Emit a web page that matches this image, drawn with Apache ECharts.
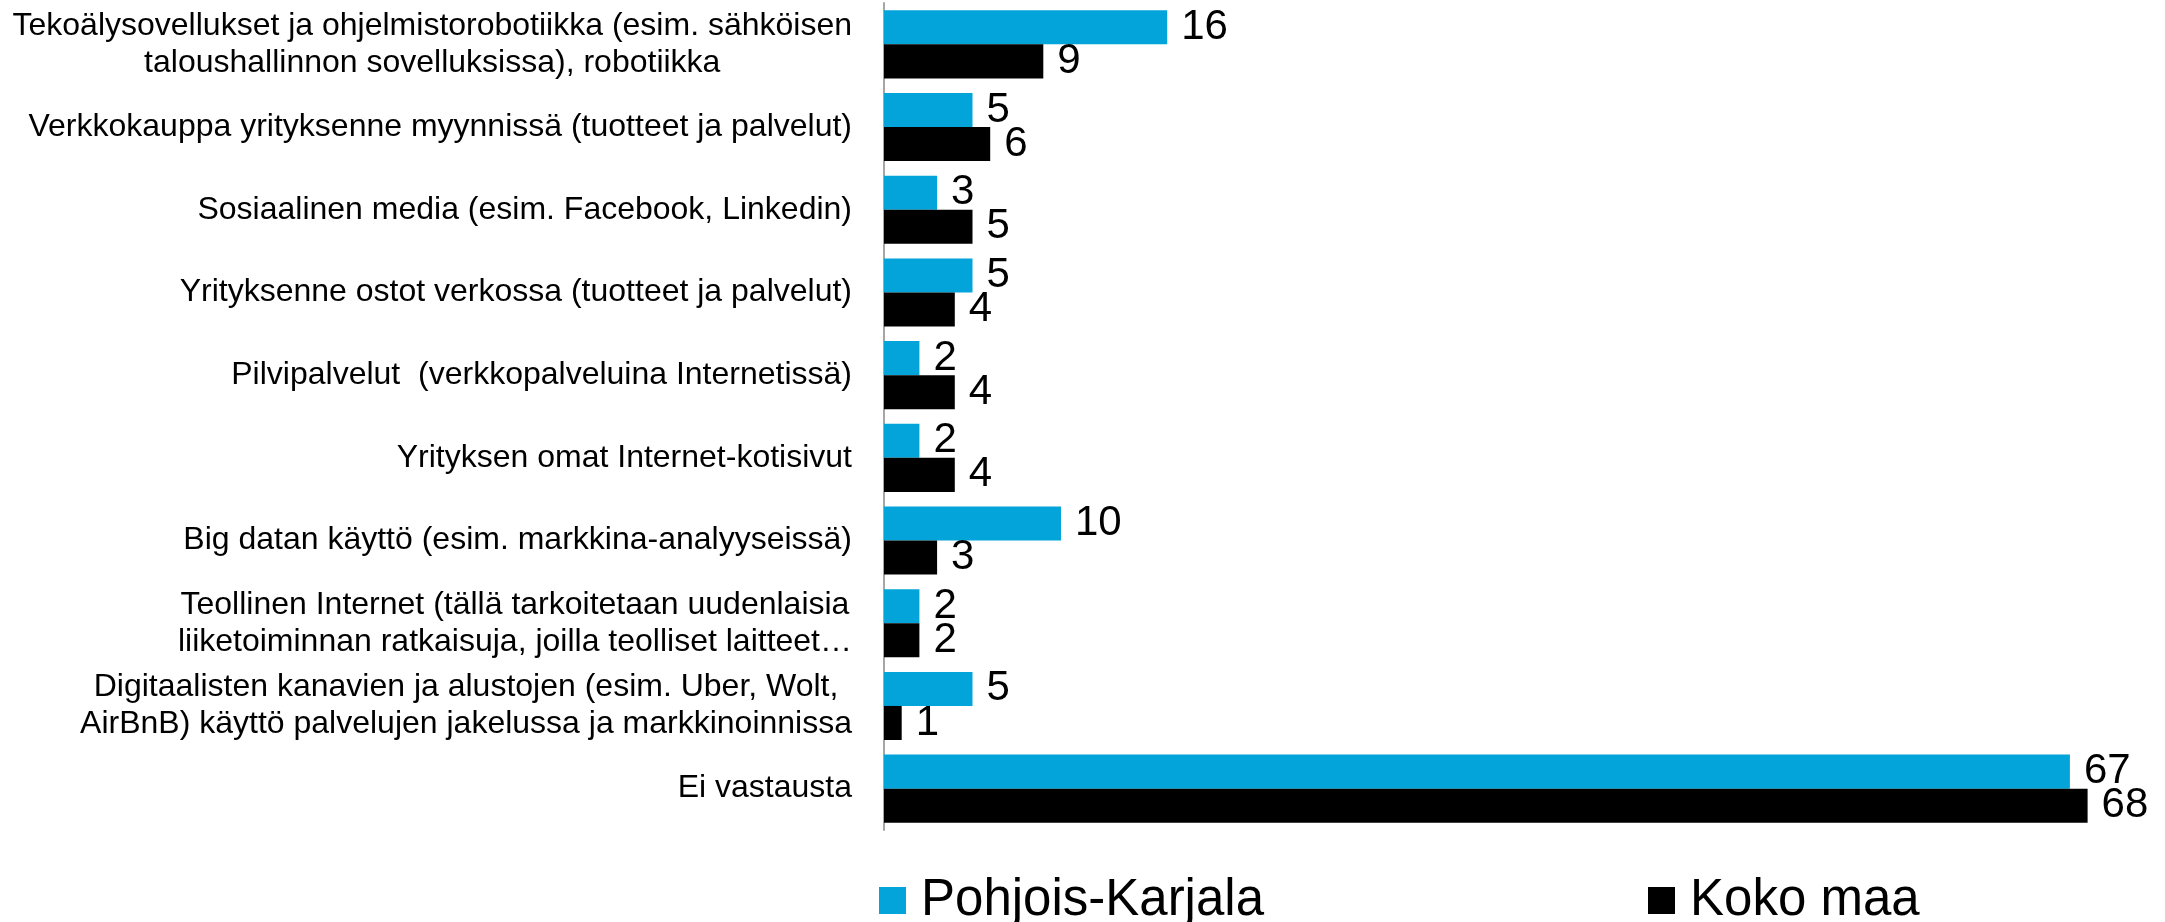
<!DOCTYPE html>
<html>
<head>
<meta charset="utf-8">
<script src="https://cdn.jsdelivr.net/npm/echarts@6/dist/echarts.min.js"></script>
<style>
  html, body { margin: 0; padding: 0; background: #fff; }
  #chart { width: 2165px; height: 922px; }
</style>
</head>
<body>
<div id="chart"></div>
<script>
// kategoriat (ylhäältä alas)
const categories = [
  'Tekoälysovellukset ja ohjelmistorobotiikka (esim. sähköisen\ntaloushallinnon sovelluksissa), robotiikka',
  'Verkkokauppa yrityksenne myynnissä (tuotteet ja palvelut)',
  'Sosiaalinen media (esim. Facebook, Linkedin)',
  'Yrityksenne ostot verkossa (tuotteet ja palvelut)',
  'Pilvipalvelut  (verkkopalveluina Internetissä)',
  'Yrityksen omat Internet-kotisivut',
  'Big datan käyttö (esim. markkina-analyyseissä)',
  'Teollinen Internet (tällä tarkoitetaan uudenlaisia\nliiketoiminnan ratkaisuja, joilla teolliset laitteet…',
  'Digitaalisten kanavien ja alustojen (esim. Uber, Wolt,\nAirBnB) käyttö palvelujen jakelussa ja markkinoinnissa',
  'Ei vastausta'
]
const seriesNames = ['Pohjois-Karjala', 'Koko maa']
const pohjoisKarjala = [16, 5, 3, 5, 2, 2, 10, 2, 5, 67]
const kokoMaa = [9, 6, 5, 4, 4, 4, 3, 2, 1, 68]

const font = '"Liberation Sans", Arial, sans-serif'
const myChart = echarts.init(document.getElementById('chart'))

const barLabel = {
  show: true,
  position: 'right',
  distance: 14,
  color: '#000',
  fontSize: 42,
  fontFamily: font
}

const legendText = { fontSize: 51, lineHeight: 51, fontFamily: font, color: '#000', padding: [0, 0, 8, 10] }

const option = {
  animation: false,
  grid: {
    left: 884,
    right: 42,
    top: 3,
    height: 827
  },
  legend: [
    {
      data: [seriesNames[0]],
      left: 874,
      top: 866,
      icon: 'rect',
      itemWidth: 27,
      itemHeight: 27,
      textStyle: legendText
    },
    {
      data: [seriesNames[1]],
      left: 1643,
      top: 866,
      icon: 'rect',
      itemWidth: 27,
      itemHeight: 27,
      textStyle: legendText
    }
  ],
  xAxis: {
    type: 'value',
    min: 0,
    max: 70,
    show: false
  },
  yAxis: {
    type: 'category',
    inverse: true,
    data: categories,
    axisLine: { show: true, lineStyle: { color: '#a6a6a6', width: 2 } },
    axisTick: { show: false },
    axisLabel: {
      margin: 32,
      // rivit keskitetään toisiinsa nähden
      formatter: (value) => value.split('\n').map(l => '{c|' + l + '}').join('\n'),
      rich: {
        c: { align: 'center', fontSize: 32, lineHeight: 37, fontFamily: font, color: '#000' }
      }
    }
  },
  series: [
    {
      name: seriesNames[0],
      type: 'bar',
      data: pohjoisKarjala,
      itemStyle: { color: '#02a4d9' },
      barGap: '0%',
      barCategoryGap: '17.6%',
      label: barLabel
    },
    {
      name: seriesNames[1],
      type: 'bar',
      data: kokoMaa,
      itemStyle: { color: '#000000' },
      barGap: '0%',
      barCategoryGap: '17.6%',
      label: barLabel
    }
  ]
}
myChart.setOption(option)
</script>
</body>
</html>
